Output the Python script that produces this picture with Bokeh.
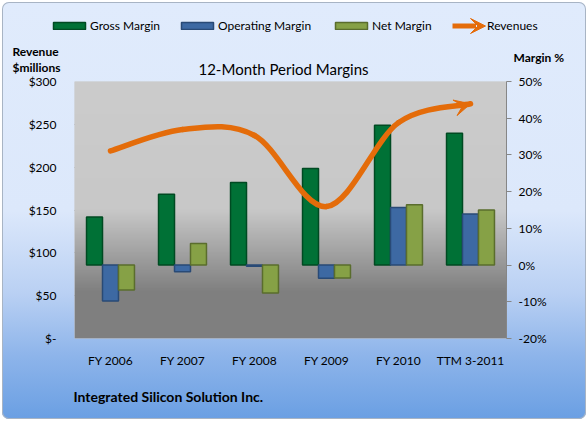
import numpy as np
from bokeh.plotting import figure
from bokeh.models import (Range1d, LinearAxis, FixedTicker, Legend, LegendItem,
                          Label, Arrow, VeeHead, ColumnDataSource)
from bokeh.transform import dodge
from bokeh.embed import file_html
from bokeh.resources import INLINE

# ---------------- data ----------------
categories = ["FY 2006", "FY 2007", "FY 2008", "FY 2009", "FY 2010", "TTM 3-2011"]
gross_margin = [13.1, 19.3, 22.5, 26.3, 38.1, 35.9]
operating_margin = [-9.8, -1.8, -0.3, -3.6, 15.7, 13.9]
net_margin = [-6.8, 5.9, -7.6, -3.5, 16.4, 15.0]
revenues = [219, 244, 237, 154, 252, 274]

revenue_ticks = [0, 50, 100, 150, 200, 250, 300]
revenue_tick_labels = ["$-", "$50", "$100", "$150", "$200", "$250", "$300"]
margin_ticks = [-20, -10, 0, 10, 20, 30, 40, 50]
margin_tick_labels = ["-20%", "-10%", "0%", "10%", "20%", "30%", "40%", "50%"]

# ---------------- style ----------------
FONT = "Lato"
ORANGE = "#E46C0A"
GREEN, GREEN_EDGE = "#007136", "#004a22"
BLUE, BLUE_EDGE = "#3d69a3", "#294a76"
OLIVE, OLIVE_EDGE = "#86a146", "#5a6d2d"
W, H = 584, 417
FL, FR, FT, FB = 72, 80, 79, 81
POS = {"position": "absolute", "left": "2px", "top": "2px"}

n = len(categories)
xpos = [i + 0.5 for i in range(n)]
src = ColumnDataSource(dict(x=xpos, gross=gross_margin, op=operating_margin,
                            net=net_margin, rev=revenues))

# ======== background sheet: chart-area fill, texts and legend ========
bg = figure(width=W, height=H, output_backend="svg", toolbar_location=None,
            x_range=Range1d(0, W), y_range=Range1d(0, H),
            x_axis_location=None, y_axis_location=None,
            min_border_left=0, min_border_right=0, min_border_top=0, min_border_bottom=0)
bg.grid.visible = False
bg.outline_line_color = None
bg.background_fill_color = None
bg.border_fill_color = None
bg.styles = dict(POS, **{
    "background": "linear-gradient(to bottom, #e0ebfc 0%, #dce8fb 50%, #b9d0f3 70%, #8db4ea 85%, #6a9fe3 100%)",
    "border-radius": "7px",
    "box-shadow": "inset 0 0 0 1px #a8b4c4",
})

# legend key renderers (hidden here; the visible series are drawn in the chart below)
k_g = bg.vbar(x="x", top="gross", width=1, source=src, fill_color=GREEN,
              line_color=GREEN_EDGE, line_width=1.5, visible=False)
k_o = bg.vbar(x="x", top="op", width=1, source=src, fill_color=BLUE,
              line_color=BLUE_EDGE, line_width=1.5, visible=False)
k_n = bg.vbar(x="x", top="net", width=1, source=src, fill_color=OLIVE,
              line_color=OLIVE_EDGE, line_width=1.5, visible=False)
k_r = bg.line(x="x", y="rev", source=src, line_color=ORANGE, line_width=5, visible=False)

def add_legend(label, renderer, x, gw, standoff=0):
    lg = Legend(items=[LegendItem(label=label, renderers=[renderer])], location=(x, 386),
                orientation="horizontal", glyph_width=gw, glyph_height=9, label_height=9,
                label_standoff=standoff, padding=0, margin=0, border_line_color=None,
                background_fill_alpha=0, label_text_font=FONT, label_text_font_size="12px",
                label_text_color="#000000")
    bg.add_layout(lg, "center")

add_legend("Gross Margin", k_g, 47, 40, standoff=1)
add_legend("Operating Margin", k_o, 175, 40, standoff=1)
add_legend("Net Margin", k_n, 329, 40, standoff=1)
add_legend("Revenues", k_r, 450, 24, standoff=11)
bg.add_layout(Arrow(end=VeeHead(size=15, fill_color=ORANGE, line_color=ORANGE),
                    x_start=468, y_start=393.5, x_end=483, y_end=393.5, line_alpha=0))

def add_text(text, x, y, size, bold=False, align="left"):
    bg.add_layout(Label(x=x, y=y, text=text, text_font=FONT, text_font_size=size,
                        text_font_style="bold" if bold else "normal",
                        text_align=align, text_baseline="middle", text_color="#000000"))

add_text("Revenue", 10, 368, "12px", bold=True)
add_text("$millions", 10, 352, "12px", bold=True)
add_text("Margin %", 511, 362, "12px", bold=True)
add_text("12-Month Period Margins", 281, 351, "15px", align="center")
add_text("Integrated Silicon Solution Inc.", 71, 23, "14px", bold=True)

# ======== main chart ========
p = figure(width=W, height=H, output_backend="svg", toolbar_location=None,
           x_range=Range1d(0, n), y_range=Range1d(revenue_ticks[0], revenue_ticks[-1]),
           min_border_left=FL, min_border_right=FR, min_border_top=FT, min_border_bottom=FB)
p.extra_y_ranges = {"margin": Range1d(margin_ticks[0], margin_ticks[-1])}
p.border_fill_color = None
p.outline_line_color = None
p.background_fill_color = "#c9c9c9"
p.styles = dict(POS)

# plot-area gradient background
N = 300
vals = (np.arange(N) + 0.5) * (revenue_ticks[-1] - revenue_ticks[0]) / N
g = np.interp(vals, [0, 55, 150, 300], [127, 128, 200, 204]).astype(np.uint8)
img = np.zeros((N, 1), dtype=np.uint32)
view = img.view(dtype=np.uint8).reshape((N, 1, 4))
view[:, 0, 0] = g
view[:, 0, 1] = g
view[:, 0, 2] = g
view[:, 0, 3] = 255
p.image_rgba(image=[img], x=0, y=revenue_ticks[0], dw=n, dh=revenue_ticks[-1] - revenue_ticks[0])

# grid
p.xgrid.visible = False
p.ygrid.ticker = FixedTicker(ticks=revenue_ticks[1:])
p.ygrid.grid_line_color = "#858585"
p.ygrid.grid_line_width = 1

# bars
bw = 0.222
p.vbar(x=dodge("x", -bw), top="gross", bottom=0, width=bw, source=src, y_range_name="margin",
       fill_color=GREEN, line_color=GREEN_EDGE, line_width=1.5)
p.vbar(x=dodge("x", 0), top="op", bottom=0, width=bw, source=src, y_range_name="margin",
       fill_color=BLUE, line_color=BLUE_EDGE, line_width=1.5)
p.vbar(x=dodge("x", bw), top="net", bottom=0, width=bw, source=src, y_range_name="margin",
       fill_color=OLIVE, line_color=OLIVE_EDGE, line_width=1.5)

# revenue smooth curve (Catmull-Rom style Bezier through the data points)
px = np.array(xpos, dtype=float)
py = np.array(revenues, dtype=float)
seg = dict(x0=[], y0=[], x1=[], y1=[], cx0=[], cy0=[], cx1=[], cy1=[])
for i in range(n - 1):
    im, ip, ipp = max(i - 1, 0), i + 1, min(i + 2, n - 1)
    seg["x0"].append(px[i]); seg["y0"].append(py[i])
    seg["x1"].append(px[ip]); seg["y1"].append(py[ip])
    seg["cx0"].append(px[i] + (px[ip] - px[im]) / 6); seg["cy0"].append(py[i] + (py[ip] - py[im]) / 6)
    seg["cx1"].append(px[ip] - (px[ipp] - px[i]) / 6); seg["cy1"].append(py[ip] - (py[ipp] - py[i]) / 6)
p.bezier(source=ColumnDataSource(seg), x0="x0", y0="y0", x1="x1", y1="y1",
         cx0="cx0", cy0="cy0", cx1="cx1", cy1="cy1",
         line_color=ORANGE, line_width=5.5, line_cap="round")
p.add_layout(Arrow(end=VeeHead(size=16, fill_color=ORANGE, line_color=ORANGE),
                   x_start=seg["cx1"][-1], y_start=seg["cy1"][-1], x_end=px[-1], y_end=py[-1],
                   line_alpha=0))

# axes
la = p.yaxis[0]
la.ticker = FixedTicker(ticks=revenue_ticks)
la.major_label_overrides = dict(zip(revenue_ticks, revenue_tick_labels))
la.axis_line_color = None
la.major_tick_line_color = None
la.minor_tick_line_color = None
la.major_label_standoff = 12
la.major_label_text_font = FONT
la.major_label_text_font_size = "12px"
la.major_label_text_color = "#000000"

ra = LinearAxis(y_range_name="margin", ticker=FixedTicker(ticks=margin_ticks),
                major_label_overrides=dict(zip(margin_ticks, margin_tick_labels)))
ra.axis_line_color = "#868686"
ra.major_tick_line_color = "#868686"
ra.major_tick_in = 0
ra.major_tick_out = 5
ra.minor_tick_line_color = None
ra.major_label_standoff = 7
ra.major_label_text_font = FONT
ra.major_label_text_font_size = "12px"
ra.major_label_text_color = "#000000"
p.add_layout(ra, "right")

ba = p.xaxis[0]
ba.ticker = FixedTicker(ticks=xpos)
ba.major_label_overrides = dict(zip(xpos, categories))
ba.axis_line_color = None
ba.major_tick_line_color = None
ba.minor_tick_line_color = None
ba.major_label_standoff = 8
ba.major_label_text_font = FONT
ba.major_label_text_font_size = "12px"
ba.major_label_text_color = "#000000"

open("out.html", "w").write(file_html([bg, p], INLINE))
